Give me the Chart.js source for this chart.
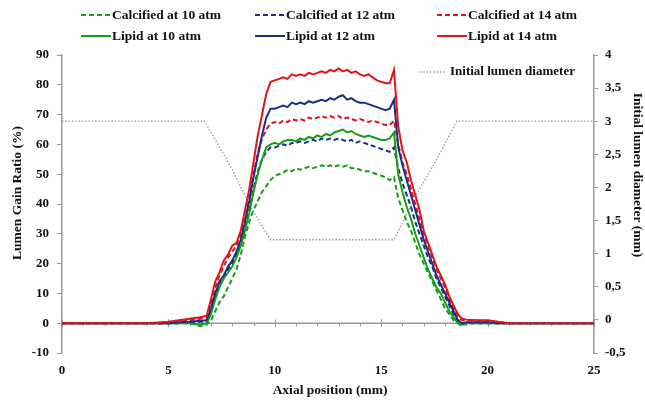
<!DOCTYPE html>
<html>
<head>
<meta charset="utf-8">
<script src="https://cdn.jsdelivr.net/npm/chart.js@4.4.1/dist/chart.umd.min.js"></script>
<style>
  html, body { margin: 0; padding: 0; background: #fff; }
  #wrap { width: 645px; height: 406px; position: relative; }
</style>
</head>
<body>
<div id="wrap"><canvas id="c" width="645" height="406"></canvas></div>
<script>
// ---------- DATA ----------
const axialPos = [0,1,2,3,4,5,5.5,6,6.5,6.8,
  7.0,7.2,7.4,7.6,7.8,8.0,8.2,8.4,8.6,8.8,
  9.0,9.2,9.4,9.6,9.8,10.0,10.2,10.4,10.6,10.8,
  11.0,11.2,11.4,11.6,11.8,12.0,12.2,12.4,12.6,12.8,
  13.0,13.2,13.4,13.6,13.8,14.0,14.2,14.4,14.6,14.8,
  15.0,15.2,15.4,15.6,15.8,16.0,16.2,16.4,16.6,16.8,
  17.0,17.2,17.4,17.6,17.8,18.0,18.2,18.4,18.6,18.8,19.0,
  19.5,20,20.5,21,22,23,24,25];

const calcified10 = [0,0,0,0,0,0,0,0,-1,-0.5,
  1,4,7,9,12,15,18,23,29,34,
  38,41,44,46,48,49.5,50,50.5,51.5,51,
  52,51.5,52,52.5,52,52.5,53,52.5,53,52.5,
  53,52.5,53,52,52,51.5,51,51,50.5,50,
  49.5,49,48,49,42,38,34,31,27,23,
  20,17,14,11,8,5,3,1,0,-1,0,
  0,0,0,0,0,0,0,0];

const calcified12 = [0,0,0,0,0,0,0,0.3,0.5,0.5,
  4,9,13,15,18,20,23,27,32,38,
  45,51,55,57.5,59,59,59.5,60,59.5,60.5,
  60.5,61,60.5,61,61.5,61,62,61.5,62,61.5,
  62,61.5,61,61.5,60.5,61,60.5,60,59.5,59,
  58.5,58,57.5,59,52,47,43,39,34,30,
  26,22,19,15,12,9,6,3,1,0,0,
  0,0,0,0,0,0,0,0];

const calcified14 = [0,0,0,0,0,0,0.5,1,1.5,2,
  7,12,16,19,22,24,26,30,35,42,
  50,57,62,65,67,67.5,67,68,67.5,68.5,
  68,68.5,68,69,68.5,69,69.5,69,69.5,69,
  69.5,68.5,69,68.5,68,68.5,68,67.5,68,67.5,
  67,66.5,66.5,68,60,54,50,45,40,35,
  30,26,22,18,15,12,8,5,2,1,1,
  0.8,0.5,0.3,0,0,0,0,0];

const lipid10 = [0,0,0,0,0,0,0,0,-0.5,0,
  3,8,12,15,17,19,22,26,31,37,
  44,50,55,59,60,60.5,60,61,61.5,61.5,
  61,62,61.5,62.5,62,63,62.5,63.5,63,64,
  64.5,65,64,64.5,63.5,63,62.5,63,62.5,62,
  61.5,61.5,62,64,50,44,39,35,30,26,
  22,18,15,12,10,7,4,2,0,-0.5,0,
  0,0,0,0,0,0,0,0];

const lipid12 = [0,0,0,0,0,0,0.3,0.5,0.8,1,
  5,10,14,16,19,21,24,28,34,41,
  49,56,63,69,72,72,72.5,73,72.5,74,
  73.5,74,73.5,74.5,74,74.5,75,74.5,75.5,75,
  76,76.5,75,75.5,74.5,74,74,73.5,73,72.5,
  72,71.5,72,75,59,53,48,43,38,33,
  28,24,20,16,13,10,7,4,1,0,0.3,
  0.3,0.3,0,0,0,0,0,0];

const lipid14 = [0,0,0,0,0,0.5,1,1.5,2,2.5,
  8,14,17,21,23,26,27,31,38,45,
  54,63,70,77,81,81.5,82,82.5,82,83.5,
  83,83.5,83,84,83.5,84,84.5,84,85,84.5,
  85.5,84.5,85,84,84.5,83.5,83,83.5,82.5,81.5,
  81,80.5,80.5,85,66,58,54,48,43,38,
  31,27,23,19,16,13,9,6,3,1.5,1.2,
  1,1,0.5,0,0,0,0,0];

const diameterPos = [0,6.7,7.4,8.0,8.7,9.3,9.8,15.6,16.7,17.6,18.55,25];
const initialDiameter = [3,3,2.61,2.27,1.81,1.47,1.21,1.21,1.92,2.42,3,3];

const seriesLabels = ['Calcified at 10 atm','Calcified at 12 atm','Calcified at 14 atm',
                      'Lipid at 10 atm','Lipid at 12 atm','Lipid at 14 atm','Initial lumen diameter'];
const leftTicks = [-10,0,10,20,30,40,50,60,70,80,90];
const rightTicks = [-0.5,0,0.5,1,1.5,2,2.5,3,3.5,4];
const xTicks = [0,5,10,15,20,25];

// ---------- STYLE ----------
const GREEN = '#14a014', BLUE = '#1c2f85', RED = '#e2141a', GREY = '#9a9a9a';
const FONT = '"Liberation Serif", "Times New Roman", serif';
const DASH = [5,3];

const pts = (xs, ys) => xs.map((x, i) => ({x: x, y: ys[i]}));

function lineDs(label, data, color, dashed, order) {
  return {
    label: label, data: pts(axialPos, data), yAxisID: 'y',
    borderColor: color, backgroundColor: color, borderWidth: 2,
    borderDash: dashed ? DASH : [], pointRadius: 0, tension: 0, fill: false, order: order
  };
}

const datasets = [
  lineDs(seriesLabels[0], calcified10, GREEN, true, 7),
  lineDs(seriesLabels[1], calcified12, BLUE, true, 6),
  lineDs(seriesLabels[2], calcified14, RED, true, 5),
  lineDs(seriesLabels[3], lipid10, GREEN, false, 4),
  lineDs(seriesLabels[4], lipid12, BLUE, false, 3),
  lineDs(seriesLabels[5], lipid14, RED, false, 2),
  {
    label: seriesLabels[6], data: pts(diameterPos, initialDiameter), yAxisID: 'y2',
    borderColor: GREY, borderWidth: 1.3, borderDash: [1.5, 1.8], pointRadius: 0,
    tension: 0, fill: false, order: 8
  }
];

// zero line with tick marks
const zeroLine = {
  id: 'zeroLine',
  beforeDatasetsDraw(chart) {
    const {ctx, chartArea, scales} = chart;
    const y0 = scales.y.getPixelForValue(0);
    ctx.save();
    ctx.strokeStyle = GREY; ctx.lineWidth = 1.5;
    ctx.beginPath(); ctx.moveTo(chartArea.left, y0); ctx.lineTo(chartArea.right, y0); ctx.stroke();
    ctx.lineWidth = 1;
    for (let v = 0; v <= 25; v++) {
      const x = Math.round(scales.x.getPixelForValue(v)) + 0.5;
      ctx.beginPath();
      if (v % 5 === 0) { ctx.moveTo(x, y0 - 4); ctx.lineTo(x, y0 + 4); }
      else { ctx.moveTo(x, y0); ctx.lineTo(x, y0 + 3); }
      ctx.stroke();
    }
    ctx.restore();
  }
};

// legend + axis titles
const customText = {
  id: 'customText',
  afterDraw(chart) {
    const ctx = chart.ctx;
    const ds = chart.data.datasets;
    ctx.save();
    ctx.textBaseline = 'middle';
    ctx.fillStyle = '#111';
    ctx.font = 'bold 13.5px ' + FONT;
    const cols = [81, 255, 437], rows = [15, 36], len = 30;
    for (let i = 0; i < 6; i++) {
      const x = cols[i % 3], y = rows[Math.floor(i / 3)];
      ctx.strokeStyle = ds[i].borderColor; ctx.lineWidth = 2;
      ctx.setLineDash(ds[i].borderDash);
      ctx.beginPath(); ctx.moveTo(x, y); ctx.lineTo(x + len, y); ctx.stroke();
      ctx.setLineDash([]);
      ctx.textAlign = 'left';
      ctx.fillText(ds[i].label, x + len + 1, y + 1);
    }
    // initial diameter entry
    ctx.strokeStyle = GREY; ctx.lineWidth = 1.3; ctx.setLineDash([1.5, 1.8]);
    ctx.beginPath(); ctx.moveTo(420, 72); ctx.lineTo(445, 72); ctx.stroke();
    ctx.setLineDash([]);
    ctx.font = 'bold 13px ' + FONT;
    ctx.fillText(ds[6].label, 450, 72);

    // axis titles
    ctx.font = 'bold 13.5px ' + FONT;
    ctx.textAlign = 'center';
    ctx.fillText('Axial position (mm)', 330, 391);
    ctx.save(); ctx.translate(18, 193); ctx.rotate(-Math.PI / 2);
    ctx.fillText('Lumen Gain Ratio (%)', 0, 0); ctx.restore();
    ctx.save(); ctx.translate(637, 175); ctx.rotate(Math.PI / 2);
    ctx.fillText('Initial lumen diameter (mm)', 0, 0); ctx.restore();
    ctx.restore();
  }
};

const tickFont = {family: FONT, size: 13, weight: 'bold'};

new Chart(document.getElementById('c'), {
  type: 'line',
  data: {datasets: datasets},
  options: {
    responsive: false, animation: false, devicePixelRatio: 1,
    layout: {padding: {top: 55, left: 0, right: 0, bottom: 0}},
    plugins: {legend: {display: false}, tooltip: {enabled: false}},
    scales: {
      x: {
        type: 'linear', min: 0, max: 25, position: 'bottom',
        afterBuildTicks: s => { s.ticks = xTicks.map(v => ({value: v})); },
        ticks: {font: tickFont, color: '#111', padding: 10, maxRotation: 0},
        grid: {display: false, drawTicks: false}, border: {display: false},
        afterFit: s => { s.height = 53; }
      },
      y: {
        type: 'linear', min: -10, max: 90, position: 'left',
        afterBuildTicks: s => { s.ticks = leftTicks.map(v => ({value: v})); },
        ticks: {font: tickFont, color: '#111', padding: 8},
        grid: {drawOnChartArea: false, tickLength: 5, color: GREY},
        border: {color: GREY, width: 1.5},
        afterFit: s => { s.width = 62; }
      },
      y2: {
        type: 'linear', min: -0.5, max: 4, position: 'right',
        afterBuildTicks: s => { s.ticks = rightTicks.map(v => ({value: v})); },
        ticks: {font: tickFont, color: '#111', padding: 7,
                callback: v => String(Math.round(v * 10) / 10).replace('.', ',')},
        grid: {drawOnChartArea: false, tickLength: 4, color: GREY},
        border: {color: GREY, width: 1.5},
        afterFit: s => { s.width = 51; }
      }
    }
  },
  plugins: [zeroLine, customText]
});
</script>
</body>
</html>
